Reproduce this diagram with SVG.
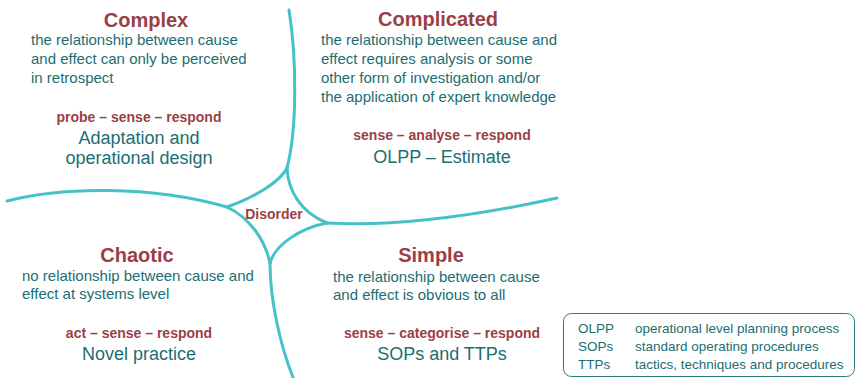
<svg xmlns="http://www.w3.org/2000/svg" width="856" height="378" viewBox="0 0 856 378">
<style>
text{font-family:"Liberation Sans",Arial,sans-serif}
.h{font-size:20px;font-weight:bold;fill:#9a3f45;text-anchor:middle}
.d{font-size:15px;fill:#1b6e71}
.m{font-size:14px;font-weight:bold;fill:#9a3f45;text-anchor:middle}
.p{font-size:18px;fill:#1b6e71;text-anchor:middle}
.l{font-size:13.5px;fill:#1b6e71}
.c{fill:none;stroke:#45c2c8;stroke-width:3;stroke-linecap:round}
</style>
<rect width="856" height="378" fill="#fff"/>
<g id="connectors">
<path class="c" d="M289,10 C297,60 297,130 287,168"/>
<path class="c" d="M287,168 C280,182 255,197 227,207"/>
<path class="c" d="M7,201 C60,187 150,185 227,207"/>
<path class="c" d="M287,168 C288,190 300,212 327,223"/>
<path class="c" d="M327,223 C400,227 480,215 557,198"/>
<path class="c" d="M227,207 C250,218 265,240 270,263"/>
<path class="c" d="M327,223 C300,228 275,245 270,263"/>
<path class="c" d="M270,263 C270,300 280,345 294,380"/>
</g>
<g id="complex">
<text class="h" x="146" y="27">Complex</text>
<text class="d" x="31" y="45">the relationship between cause</text>
<text class="d" x="31" y="64">and effect can only be perceived</text>
<text class="d" x="31" y="83">in retrospect</text>
<text class="m" x="139" y="122">probe – sense – respond</text>
<text class="p" x="139" y="144">Adaptation and</text>
<text class="p" x="139" y="164">operational design</text>
</g>
<g id="complicated">
<text class="h" x="438" y="26">Complicated</text>
<text class="d" x="321" y="45">the relationship between cause and</text>
<text class="d" x="321" y="64">effect requires analysis or some</text>
<text class="d" x="321" y="83">other form of investigation and/or</text>
<text class="d" x="321" y="102">the application of expert knowledge</text>
<text class="m" x="442" y="140">sense – analyse – respond</text>
<text class="p" x="442" y="163">OLPP – Estimate</text>
</g>
<g id="disorder">
<text class="m" x="274" y="219">Disorder</text>
</g>
<g id="chaotic">
<text class="h" x="137" y="262">Chaotic</text>
<text class="d" x="22" y="281">no relationship between cause and</text>
<text class="d" x="22" y="299">effect at systems level</text>
<text class="m" x="139" y="338">act – sense – respond</text>
<text class="p" x="139" y="360">Novel practice</text>
</g>
<g id="simple">
<text class="h" x="431" y="262">Simple</text>
<text class="d" x="333" y="282">the relationship between cause</text>
<text class="d" x="333" y="300">and effect is obvious to all</text>
<text class="m" x="442" y="338">sense – categorise – respond</text>
<text class="p" x="442" y="360">SOPs and TTPs</text>
</g>
<g id="legend">
<rect x="563.5" y="313.5" width="291" height="63" rx="8" fill="none" stroke="#2a7a7c" stroke-width="1"/>
<text class="l" x="578" y="333">OLPP</text>
<text class="l" x="578" y="351">SOPs</text>
<text class="l" x="578" y="369">TTPs</text>
<text class="l" x="635" y="333">operational level planning process</text>
<text class="l" x="635" y="351">standard operating procedures</text>
<text class="l" x="635" y="369">tactics, techniques and procedures</text>
</g>
</svg>
